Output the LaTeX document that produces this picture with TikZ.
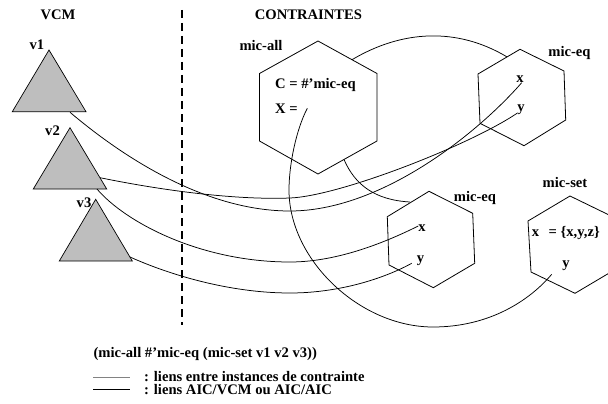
\documentclass[tikz,border=0pt]{standalone}
\usepackage{fontspec}
\setmainfont{Liberation Serif}
\definecolor{trigray}{RGB}{190,190,190}
\definecolor{leggray}{RGB}{130,130,130}
\begin{document}
\begin{tikzpicture}[x=1pt,y=-1pt,
  txt/.style={font=\bfseries\fontsize{14.6}{17}\selectfont, inner sep=0pt},
  lbl/.style={txt, anchor=base},
  lbll/.style={txt, anchor=base west},
  tri/.style={draw=black, fill=trigray, line width=0.7pt},
  hexa/.style={draw=black, line width=0.8pt},
  link/.style={draw=black, line width=0.75pt},
  sep/.style={draw=black, line width=1.8pt, dash pattern=on 8pt off 5pt}]
\useasboundingbox (0,0) rectangle (608,404);
\clip (0,0) rectangle (608,404);

% separator
\coordinate (s1) at (182,10);
\coordinate (s2) at (182,325);
\draw[sep] (s1) -- (s2);

% titles
\node[lbl] (vcm) at (58,20) {VCM};
\node[lbl] (contr) at (308.5,20) {CONTRAINTES};

% triangles
\draw[tri] (49,50) -- (86,111.7) -- (12.3,111.7) -- cycle;
\draw[tri] (70,127.7) -- (106.7,189) -- (33.3,189) -- cycle;
\draw[tri] (95.7,199.3) -- (132.3,261) -- (59.3,261) -- cycle;
\node[lbl] (v1) at (37,50) {v1};
\node[lbl] (v2) at (52.5,135) {v2};
\node[lbl] (v3) at (84,207) {v3};

% hexagons
\draw[hexa] (318,41) -- (377,73.5) -- (377,141) -- (318,174) -- (259.5,141) -- (259.5,73.5) -- cycle;
\draw[hexa] (520,49.3) -- (564,71) -- (565.7,120) -- (524,145.7) -- (480,123.3) -- (478,74) -- cycle;
\draw[hexa] (429,191.3) -- (472.7,213.3) -- (474.7,263.3) -- (433.3,287.7) -- (389,265) -- (387.3,216.7) -- cycle;
\draw[hexa] (570,196) -- (614,217.4) -- (617,268.4) -- (575,293.3) -- (531,272) -- (528,221) -- cycle;

% texts in hexagons
\node[lbl] (lall) at (261,51) {mic-all};
\node[lbll] (cval) at (275,88.3) {C = \#'mic-eq};
\node[lbll] (xval) at (275,113.3) {X =};
\node[lbl] (leq1) at (569.5,57) {mic-eq};
\node[lbl] (x1) at (520,82.5) {x};
\node[lbl] (y1) at (521,111.5) {y};
\node[lbl] (leq2) at (475,201.5) {mic-eq};
\node[lbl] (x2) at (422,231.7) {x};
\node[lbl] (y2) at (420.5,262.5) {y};
\node[lbl] (lset) at (565,187) {mic-set};
\node[lbll] (xset) at (531.7,236.7) {x\hspace{9.5pt}= \{x,y,z\}};
\node[lbl] (yset) at (566,267) {y};

% connector end points
\coordinate (t1s) at (70,112.3);
\coordinate (t2s) at (100,177.7);
\coordinate (t2b) at (97,189);
\coordinate (t3s) at (130,257);
\coordinate (eqx) at (521.7,82.7);
\coordinate (eqy) at (517,113.3);
\coordinate (eq2x) at (418.3,226);
\coordinate (eq2y) at (411.7,263.3);
\coordinate (allX) at (307.3,108.3);
\coordinate (sety) at (551.7,274.3);
\coordinate (arcA) at (352,59.7);
\coordinate (arcB) at (507,56.9);
\coordinate (arcC) at (344,159.5);
\coordinate (arcD) at (410,202);

% connectors
\draw[link] (t1s) .. controls (130,163) and (210,211) .. (290,211)
            .. controls (380,211) and (476,135) .. (eqx);
\draw[link] (t2s) .. controls (170,192) and (240,200) .. (290,198)
            .. controls (340,196) and (470,145) .. (eqy);
\draw[link] (t2b) .. controls (125,222) and (200,262) .. (290,262)
            .. controls (340,262) and (390,240) .. (eq2x);
\draw[link] (t3s) .. controls (170,275) and (230,293) .. (290,293)
            .. controls (340,293) and (385,278) .. (eq2y);
\draw[link] (arcA) .. controls (402,30) and (457,27) .. (arcB);
\draw[link] (arcC) .. controls (355,185) and (375,200) .. (arcD);
\draw[link] (allX) .. controls (296,130) and (289,165) .. (289,190)
            .. controls (289,260) and (360,327) .. (433,327)
            .. controls (490,327) and (530,300) .. (sety);

% legend
\node[lbll] (expr) at (93.3,357.5) {(mic-all \#'mic-eq (mic-set v1 v2 v3))};
\coordinate (g1) at (93,377);
\coordinate (g2) at (130,377);
\coordinate (b1) at (93,389.5);
\coordinate (b2) at (130,389.5);
\draw[leggray, line width=1pt] (g1) -- (g2);
\draw[black, line width=0.9pt] (b1) -- (b2);
\node[lbll] (leg1) at (144,381) {: liens entre instances de contrainte};
\node[lbll] (leg2) at (144,394.3) {: liens AIC/VCM ou AIC/AIC};
\end{tikzpicture}
\end{document}
